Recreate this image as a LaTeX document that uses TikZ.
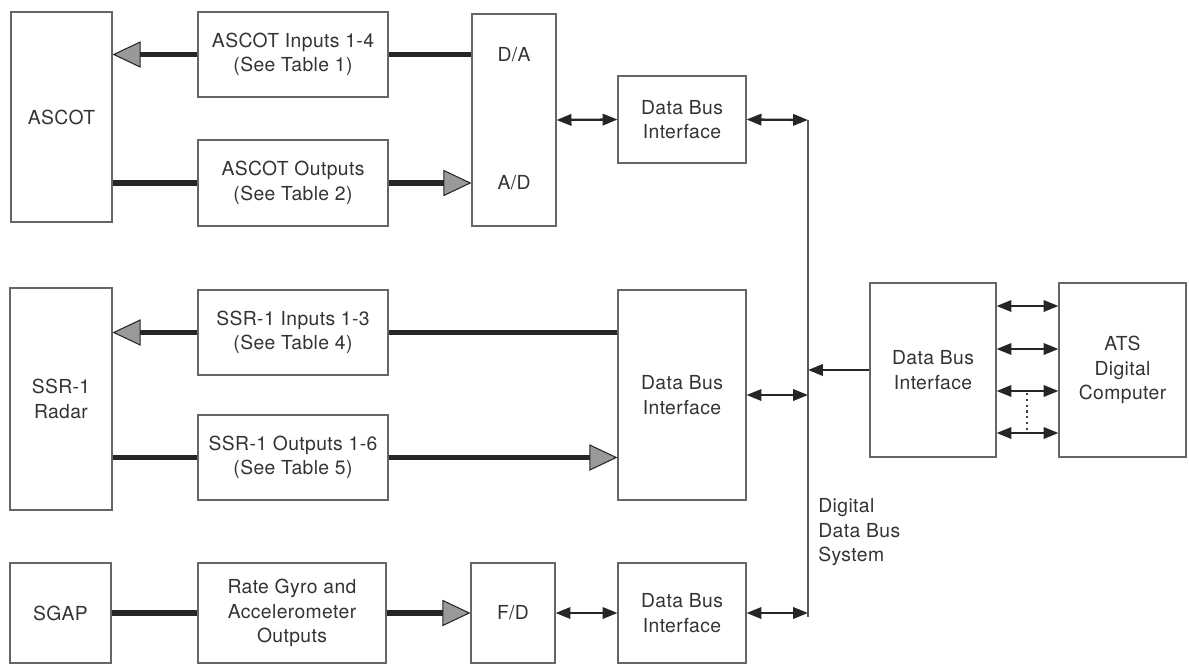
\documentclass[tikz,border=0pt]{standalone}
\usepackage{fontspec}
\setmainfont{TeX Gyre Heros}[LetterSpace=2]
\usepackage{tikz}
\usetikzlibrary{arrows.meta, calc}
\newlength\px
\setlength\px{0.02cm}

\begin{document}
\begin{tikzpicture}[
  x=0.02cm, y=-0.02cm,
  font=\fontsize{11}{14}\selectfont,
  blk/.style={draw=black!60, line width=0.6pt, inner sep=0pt, align=center, text=black!80},
  lbl/.style={text=black!80, inner sep=0pt, align=left},
  thk/.style={black!85, line width=3.4pt},
  thkar/.style={thk, -{Triangle[length=16pt, width=15pt, line width=0.6pt, fill=black!40]}},
  dbl/.style={black!85, line width=1.3pt, {Triangle[length=8.5pt, width=6.5pt]}-{Triangle[length=8.5pt, width=6.5pt]}},
  sgl/.style={black!85, line width=1.3pt, -{Triangle[length=8.5pt, width=6.5pt]}},
  bus/.style={black!65, line width=0.6pt},
]
\useasboundingbox (0,0) rectangle (1189,669);
% left column: the three sources
\node[blk, minimum width=101*\px, minimum height=210*\px] (ascot) at (61.5,117) {ASCOT};
\node[blk, minimum width=102*\px, minimum height=222*\px] (ssr) at (61,399) {SSR-1\\Radar};
\node[blk, minimum width=101*\px, minimum height=100*\px] (sgap) at (60.5,613) {SGAP};
% signal boxes
\node[blk, minimum width=190*\px, minimum height=85*\px] (ascin) at (293,54.5) {ASCOT Inputs 1-4\\(See Table 1)};
\node[blk, minimum width=190*\px, minimum height=86*\px] (ascout) at (293,183) {ASCOT Outputs\\(See Table 2)};
\node[blk, minimum width=190*\px, minimum height=85*\px] (ssrin) at (293,332.5) {SSR-1 Inputs 1-3\\(See Table 4)};
\node[blk, minimum width=190*\px, minimum height=85*\px] (ssrout) at (293,457.5) {SSR-1 Outputs 1-6\\(See Table 5)};
\node[blk, minimum width=188*\px, minimum height=100*\px] (gyro) at (292,613) {Rate Gyro and\\Accelerometer\\Outputs};
% converters
\node[blk, minimum width=84*\px, minimum height=212*\px] (dac) at (514,120) {};
\node[lbl] (datxt) at (dac |- ascin) {D/A};
\node[lbl] (adtxt) at (dac |- ascout) {A/D};
\node[blk, minimum width=84*\px, minimum height=100*\px] (fdc) at (513,613) {F/D};
% bus interfaces
\node[blk, minimum width=128*\px, minimum height=87*\px] (dbitop) at (682,119.5) {Data Bus\\Interface};
\node[blk, minimum width=128*\px, minimum height=210*\px] (dbimid) at (682,395) {Data Bus\\Interface};
\node[blk, minimum width=128*\px, minimum height=100*\px] (dbibot) at (682,613) {Data Bus\\Interface};
\node[blk, minimum width=126*\px, minimum height=174*\px] (dbiats) at (933,370) {Data Bus\\Interface};
\node[blk, minimum width=127*\px, minimum height=174*\px] (ats) at (1122.5,370) {ATS\\Digital\\Computer};
% the bus itself
\coordinate (bustop) at (808,120);
\coordinate (busbot) at (808,617);
\draw[bus] (bustop) -- (busbot);
\node[lbl, anchor=north west] (bustxt) at (818,498) {Digital\\Data Bus\\System};
% ASCOT lines
\draw[thk] (dac.west |- ascin) -- (ascin.east);
\draw[thkar] (ascin.west) -- (ascin.west -| ascot.east);
\draw[thk] (ascot.east |- ascout) -- (ascout.west);
\draw[thkar] (ascout.east) -- (ascout.east -| dac.west);
% SSR-1 lines
\draw[thk] (dbimid.west |- ssrin) -- (ssrin.east);
\draw[thkar] (ssrin.west) -- (ssrin.west -| ssr.east);
\draw[thk] (ssr.east |- ssrout) -- (ssrout.west);
\draw[thkar] (ssrout.east) -- (ssrout.east -| dbimid.west);
% SGAP lines
\draw[thk] (sgap.east) -- (gyro.west);
\draw[thkar] (gyro.east) -- (fdc.west);
% to and from the bus
\draw[dbl] (dac.east) -- (dbitop.west);
\draw[dbl] (dbitop.east) -- (bustop);
\draw[dbl] (dbimid.east) -- (dbimid.east -| bustop);
\draw[dbl] (fdc.east) -- (dbibot.west);
\draw[dbl] (dbibot.east) -- (dbibot.east -| busbot);
\draw[sgl] (dbiats.west) -- (dbiats.west -| bustop);
% interface to computer
\foreach \yy in {306,349,391,433}
  \draw[dbl] (dbiats.east |- 0,\yy) -- (ats.west |- 0,\yy);
\draw[black!75, dotted, line width=1.3pt] (1027,393) -- (1027,431);
\end{tikzpicture}
\end{document}
